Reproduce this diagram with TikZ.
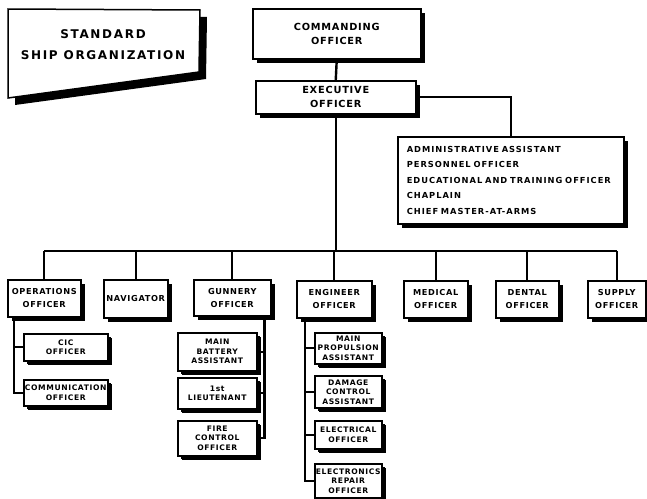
\documentclass[tikz,border=0pt]{standalone}
\usepackage{fontspec}
\setmainfont{DejaVu Sans}
\newfontfamily\lblf{DejaVu Sans}[LetterSpace=8]
\newfontfamily\admf{DejaVu Sans}[LetterSpace=12]
\newfontfamily\ttlf{DejaVu Sans}[LetterSpace=14]
\usetikzlibrary{shadows}
\begin{document}
\begin{tikzpicture}[x=1pt,y=-1pt,
  box/.style={draw, line width=1.5pt, fill=white, inner sep=0pt, align=center, anchor=north west,
    drop shadow={shadow xshift=4pt, shadow yshift=-4pt, opacity=1, fill=black}},
  big/.style={box, font=\lblf\bfseries\fontsize{9.8}{14}\selectfont},
  mid/.style={box, font=\lblf\bfseries\fontsize{8.2}{13}\selectfont},
  sml/.style={box, font=\lblf\bfseries\fontsize{7.6}{9.5}\selectfont,
    drop shadow={shadow xshift=3pt, shadow yshift=-3pt, opacity=1, fill=black}},
  conn/.style={line width=2.4pt}]
\useasboundingbox (0,0) rectangle (647,498);
% title
\fill (15,16) -- (207,17) -- (206,79) -- (15,105) -- cycle;
\draw[line width=1.5pt, fill=white] (8,9) -- (200,10) -- (199,72) -- (8,98) -- cycle;
\node[font=\ttlf\bfseries\fontsize{12}{21}\selectfont, align=center] (title) at (103,45) {STANDARD\\SHIP ORGANIZATION};
% top
\node[big, minimum width=168pt, minimum height=50pt] (co) at (252,8) {COMMANDING\\OFFICER};
\node[big, minimum width=160pt, minimum height=33pt] (xo) at (255,80) {EXECUTIVE\\OFFICER};
\node[box, font=\admf\bfseries\fontsize{8.3}{15.5}\selectfont, align=left, inner xsep=9pt,
  minimum width=226pt, minimum height=87pt, text width=208pt] (admin) at (397,136)
  {ADMINISTRATIVE ASSISTANT\\PERSONNEL OFFICER\\EDUCATIONAL AND TRAINING OFFICER\\CHAPLAIN\\CHIEF MASTER-AT-ARMS};
% departments
\node[mid, minimum width=73pt, minimum height=37pt] (ops) at (7,279) {OPERATIONS\\OFFICER};
\node[mid, minimum width=64pt, minimum height=38pt] (nav) at (103,279) {NAVIGATOR};
\node[mid, minimum width=77pt, minimum height=36pt] (gun) at (193,279) {GUNNERY\\OFFICER};
\node[mid, minimum width=75pt, minimum height=37pt] (eng) at (296,280) {ENGINEER\\OFFICER};
\node[mid, minimum width=64pt, minimum height=37pt] (med) at (403,280) {MEDICAL\\OFFICER};
\node[mid, minimum width=63pt, minimum height=37pt] (dent) at (495,280) {DENTAL\\OFFICER};
\node[mid, minimum width=58pt, minimum height=37pt] (sup) at (587,280) {SUPPLY\\OFFICER};
% subordinates
\node[sml, minimum width=84pt, minimum height=27pt] (cic) at (23,333) {CIC\\OFFICER};
\node[sml, minimum width=84pt, minimum height=26pt] (comm) at (23,379) {COMMUNICATION\\OFFICER};
\node[sml, minimum width=79pt, minimum height=38pt] (mba) at (177,332) {MAIN\\BATTERY\\ASSISTANT};
\node[sml, minimum width=79pt, minimum height=31pt] (lt) at (177,377) {1st\\LIEUTENANT};
\node[sml, minimum width=79pt, minimum height=35pt] (fc) at (177,420) {FIRE\\CONTROL\\OFFICER};
\node[sml, minimum width=67pt, minimum height=31pt] (mpa) at (314,332) {MAIN\\PROPULSION\\ASSISTANT};
\node[sml, minimum width=67pt, minimum height=32pt] (dca) at (314,375) {DAMAGE\\CONTROL\\ASSISTANT};
\node[sml, minimum width=67pt, minimum height=28pt] (elo) at (314,420) {ELECTRICAL\\OFFICER};
\node[sml, minimum width=67pt, minimum height=34pt] (ero) at (314,463) {ELECTRONICS\\REPAIR\\OFFICER};
% connectors
\coordinate (bus) at (335,251);
\draw[conn] (co.south) -- (xo.north);
\draw[conn] (xo.south) -- (xo.south |- bus);
\draw[conn] (xo.east) -| (admin.north);
\draw[conn] (ops.north |- bus) -- (sup.north |- bus);
\foreach \n in {ops,nav,gun,eng,med,dent,sup} \draw[conn] (\n.north) -- (\n.north |- bus);
\coordinate (opsL) at ([xshift=7pt]ops.south west);
\draw[conn] (opsL) |- (comm.west);
\draw[conn] (cic.west) -- (cic.west -| opsL);
\coordinate (gunR) at ([xshift=-7pt]gun.south east);
\draw[conn] (gunR) |- (fc.east);
\draw[conn] (mba.east) -- (mba.east -| gunR);
\draw[conn] (lt.east) -- (lt.east -| gunR);
\coordinate (engL) at ([xshift=9pt]eng.south west);
\draw[conn] (engL) |- (ero.west);
\draw[conn] (mpa.west) -- (mpa.west -| engL);
\draw[conn] (dca.west) -- (dca.west -| engL);
\draw[conn] (elo.west) -- (elo.west -| engL);
\end{tikzpicture}
\end{document}
